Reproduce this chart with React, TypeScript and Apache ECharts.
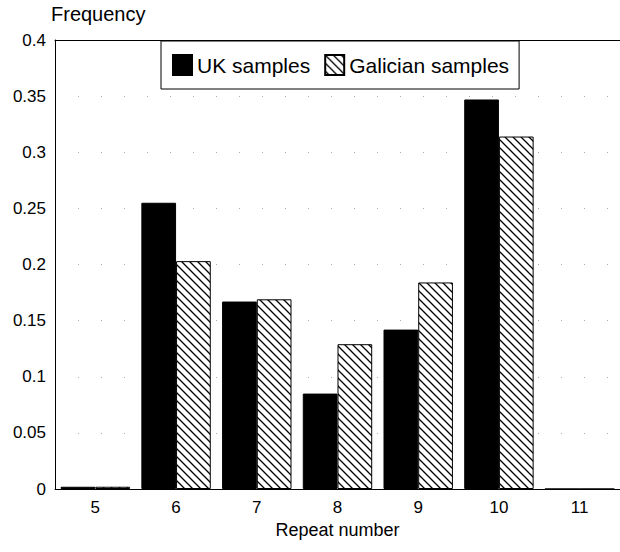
import React, { useEffect, useRef } from "react";
import * as echarts from "echarts";

const categories = ["5", "6", "7", "8", "9", "10", "11"];
const ukSamples = [0.002, 0.255, 0.167, 0.085, 0.142, 0.347, 0];
const galicianSamples = [0.002, 0.203, 0.169, 0.129, 0.184, 0.314, 0];
const yTicks = [0, 0.05, 0.1, 0.15, 0.2, 0.25, 0.3, 0.35, 0.4];

function makeHatch(): HTMLCanvasElement {
  const size = 8;
  const c = document.createElement("canvas");
  c.width = size;
  c.height = size;
  const ctx = c.getContext("2d")!;
  ctx.fillStyle = "#ffffff";
  ctx.fillRect(0, 0, size, size);
  ctx.strokeStyle = "#000000";
  ctx.lineWidth = 1.3;
  ctx.beginPath();
  ctx.moveTo(0, 0);
  ctx.lineTo(size, size);
  ctx.moveTo(-size, 0);
  ctx.lineTo(size, 2 * size);
  ctx.moveTo(0, -size);
  ctx.lineTo(2 * size, size);
  ctx.stroke();
  return c;
}

export default function App() {
  const ref = useRef<HTMLDivElement>(null);
  useEffect(() => {
    document.body.style.margin = "0";
    if (!ref.current) return;
    const chart = echarts.init(ref.current, undefined, { renderer: "svg" });
    const hatch = makeHatch();
    const font = "Liberation Sans, Arial, sans-serif";
    chart.setOption({
      animation: false,
      backgroundColor: "#ffffff",
      title: {
        text: "Frequency",
        left: 51,
        top: 4,
        padding: 0,
        textStyle: { fontFamily: font, fontSize: 20, fontWeight: "normal", color: "#000" },
      },
      legend: {
        left: 161,
        top: 41,
        padding: [13, 10, 13, 11],
        itemGap: 14,
        itemWidth: 19,
        itemHeight: 20,
        borderColor: "#000",
        borderWidth: 1,
        backgroundColor: "#fff",
        textStyle: { fontFamily: font, fontSize: 21, color: "#000" },
        data: [
          { name: "UK samples", icon: "rect" },
          { name: "Galician samples", icon: "rect" },
        ],
      },
      grid: {
        left: 55,
        top: 40,
        width: 566,
        bottom: 63,
        show: false,
        containLabel: false,
      },
      xAxis: [
        {
          type: "category",
          data: categories,
          name: "Repeat number",
          nameLocation: "middle",
          nameGap: 32,
          nameTextStyle: { fontFamily: font, fontSize: 18, color: "#000" },
          axisLine: { lineStyle: { color: "#000", width: 1 } },
          axisTick: { show: false },
          axisLabel: { fontFamily: font, fontSize: 17, color: "#000", margin: 10 },
        },
        {
          type: "category",
          data: categories,
          position: "top",
          axisLine: { show: true, lineStyle: { color: "#000", width: 1 } },
          axisTick: { show: false },
          axisLabel: { show: false },
          splitLine: { show: false },
        },
      ],
      yAxis: {
        type: "value",
        min: 0,
        max: 0.4,
        interval: 0.05,
        axisLine: { show: true, lineStyle: { color: "#000", width: 1 } },
        axisTick: { show: false },
        axisLabel: {
          fontFamily: font,
          fontSize: 17,
          color: "#000",
          margin: 9,
          formatter: (v: number) => {
            const t = yTicks.find((x) => Math.abs(x - v) < 1e-9);
            return String(t !== undefined ? t : v);
          },
        },
        splitLine: {
          show: true,
          lineStyle: { color: "#aaa", width: 1, type: [1, 22] },
        },
      },
      series: [
        {
          name: "UK samples",
          type: "bar",
          data: ukSamples,
          barGap: "0%",
          barCategoryGap: "14%",
          itemStyle: { color: "#000", borderColor: "#000", borderWidth: 1 },
        },
        {
          name: "Galician samples",
          type: "bar",
          data: galicianSamples,
          itemStyle: {
            color: { image: hatch, repeat: "repeat" },
            borderColor: "#000",
            borderWidth: 1,
          },
        },
      ],
    });
    return () => chart.dispose();
  }, []);
  return <div ref={ref} style={{ position: "absolute", left: 0, top: 0, width: 620, height: 552 }} />;
}
